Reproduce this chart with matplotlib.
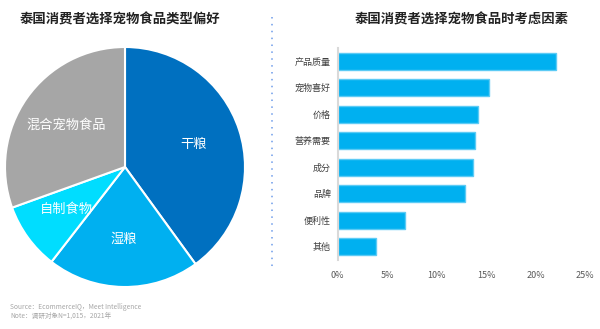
import numpy as np
import matplotlib.pyplot as plt
from matplotlib.lines import Line2D

plt.rcParams['font.family'] = ['Noto Sans CJK SC', 'DejaVu Sans']

# 饼图数据
pie_labels = ['干粮', '湿粮', '自制食物', '混合宠物食品']
pie_values = [40, 20.5, 9, 30.5]
pie_colors = ['#0070C0', '#00B0F0', '#00DDFF', '#A6A6A6']

# 条形图数据
bar_labels = ['产品质量', '宠物喜好', '价格', '营养需要', '成分', '品牌', '便利性', '其他']
bar_values = [22.1, 15.3, 14.2, 13.9, 13.7, 12.9, 6.8, 3.9]
x_ticks = [0, 5, 10, 15, 20, 25]

fig = plt.figure(figsize=(6, 3.29), dpi=100)

# 左侧饼图
ax1 = fig.add_axes([5/600, 42/329, 240/600, 240/329])
wedges, _ = ax1.pie(pie_values, colors=pie_colors, startangle=90, counterclock=False,
                    wedgeprops=dict(edgecolor='white', linewidth=1.5))
for w, lab in zip(wedges, pie_labels):
    mid = np.deg2rad((w.theta1 + w.theta2) / 2)
    ax1.text(0.6 * np.cos(mid), 0.6 * np.sin(mid), lab, color='white',
             fontsize=9.5, ha='center', va='center')
ax1.set_xlim(-1, 1)
ax1.set_ylim(-1, 1)

fig.text(20/600, 1 - 19/329, '泰国消费者选择宠物食品类型偏好', fontsize=9.6,
         fontweight='bold', ha='left', va='center', color='#222222')

# 分隔虚线
fig.add_artist(Line2D([272/600, 272/600], [1 - 17/329, 1 - 267/329],
                      transform=fig.transFigure, color='#6C9BEA',
                      linestyle=(0, (1, 3.5)), linewidth=1.1))

# 右侧条形图
ax2 = fig.add_axes([337.7/600, 1 - 260/329, 247.3/600, 212/329])
y = np.arange(len(bar_labels))
ax2.barh(y, bar_values, height=0.63, color='#00B0F0', edgecolor='#5CCBF5', linewidth=1)
ax2.set_ylim(len(bar_labels) - 0.5, -0.5)
ax2.set_xlim(0, 25)
ax2.set_yticks(y)
ax2.set_yticklabels(bar_labels, fontsize=6.5, color='#404040')
ax2.set_xticks(x_ticks)
ax2.set_xticklabels([f'{t}%' for t in x_ticks], fontsize=6.5, color='#595959')
for s in ['top', 'right', 'bottom']:
    ax2.spines[s].set_visible(False)
ax2.spines['left'].set_color('#D9D9D9')
ax2.spines['left'].set_linewidth(1.5)
ax2.tick_params(axis='both', length=0)
ax2.tick_params(axis='y', pad=5)
ax2.tick_params(axis='x', pad=8)

fig.text(462/600, 1 - 19/329, '泰国消费者选择宠物食品时考虑因素', fontsize=9.6,
         fontweight='bold', ha='center', va='center', color='#222222')

# 来源
fig.text(10/600, 1 - 307/329, 'Source：EcommerceIQ，Meet Intelligence', fontsize=4.8,
         color='#A6A6A6', ha='left', va='center')
fig.text(10/600, 1 - 316/329, 'Note：调研对象N=1,015，2021年', fontsize=4.8,
         color='#A6A6A6', ha='left', va='center')

fig.savefig('out.png', dpi=100)
